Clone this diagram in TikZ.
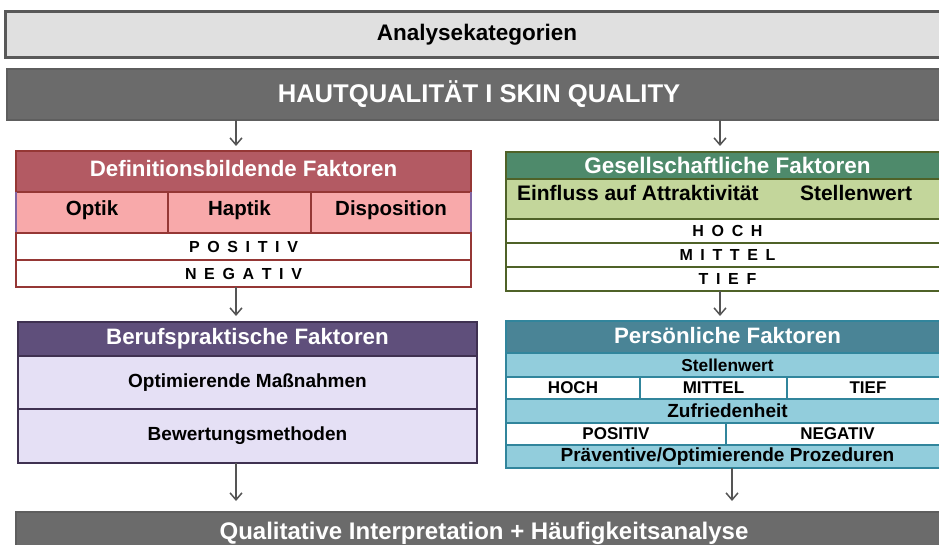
\documentclass[tikz,border=0pt]{standalone}
\usepackage{fontspec}
\setmainfont{Liberation Sans}
\usetikzlibrary{arrows.meta}
\definecolor{anaF}{HTML}{E0E0E0}
\definecolor{anaB}{HTML}{595959}
\definecolor{hqF}{HTML}{6B6B6B}
\definecolor{hqB}{HTML}{5E5E5E}
\definecolor{defH}{HTML}{B35A63}
\definecolor{defS}{HTML}{F8A9AA}
\definecolor{defB}{HTML}{953735}
\definecolor{defP}{HTML}{8064A2}
\definecolor{gesH}{HTML}{4E8A6B}
\definecolor{gesS}{HTML}{C3D69B}
\definecolor{gesB}{HTML}{4F6228}
\definecolor{berH}{HTML}{5F4F7B}
\definecolor{berS}{HTML}{E5E0F5}
\definecolor{berB}{HTML}{3F3151}
\definecolor{perH}{HTML}{4A8496}
\definecolor{perS}{HTML}{92CDDC}
\definecolor{perB}{HTML}{31859C}
\definecolor{arrC}{HTML}{555555}
\newcommand{\fs}[1]{\fontsize{#1}{#1}\selectfont}
\tikzset{
  cell/.style={draw, line width=1.6pt, anchor=north west, inner sep=0pt, outer sep=0pt,
    font=\bfseries\fs{17}, align=center},
  lbl/.style={inner sep=0pt, outer sep=0pt, font=\bfseries\fs{21}},
  arr/.style={draw=arrC, line width=1.5pt, -{Straight Barb[length=7pt,width=12pt,line width=1.5pt]}},
  spaced/.style={font=\bfseries\fs{16}\addfontfeature{LetterSpace=20}},
}
\begin{document}
\begin{tikzpicture}[x=1pt,y=-1pt]
\useasboundingbox (0,0) rectangle (939,545);
\clip (0,0) rectangle (939,545);
% top boxes
\node[cell, fill=anaF, draw=anaB, line width=3pt, minimum width=944pt, minimum height=46pt, font=\bfseries\fs{22.5}] (ana) at (5,12) {Analysekategorien};
\node[cell, fill=hqF, draw=hqB, line width=1.5pt, minimum width=944pt, minimum height=51pt, text=white, font=\bfseries\fs{25.6}] (hq) at (7,69) {\raisebox{3pt}{HAUTQUALITÄT I SKIN QUALITY}};
% Definitionsbildende
\node[cell, fill=defH, draw=defB, text=white, minimum width=455pt, minimum height=41pt, font=\bfseries\fs{22.3}] (defh) at (16,151) {\raisebox{6pt}{Definitionsbildende Faktoren}};
\node[cell, fill=defS, draw=defB, minimum width=152pt, minimum height=41pt, font=\bfseries\fs{20.5}] (opt) at (16,192) {\raisebox{8pt}{Optik}};
\node[cell, fill=defS, draw=defB, minimum width=143pt, minimum height=41pt, font=\bfseries\fs{20.5}] (hap) at (168,192) {\raisebox{8pt}{Haptik}};
\node[cell, fill=defS, draw=defB, minimum width=160pt, minimum height=41pt, font=\bfseries\fs{20.5}] (dis) at (311,192) {\raisebox{8pt}{Disposition}};
\draw[defP, line width=1.6pt] (opt.north west) -- (opt.south west);
\draw[defP, line width=1.6pt] (dis.north east) -- (dis.south east);
\node[cell, fill=white, draw=defB, minimum width=455pt, minimum height=27pt, spaced] (dpos) at (16,233) {P O S I T I V};
\node[cell, fill=white, draw=defB, minimum width=455pt, minimum height=27pt, spaced] (dneg) at (16,260) {N E G A T I V};
% Gesellschaftliche
\node[cell, fill=gesH, draw=gesB, text=white, minimum width=443pt, minimum height=27pt, font=\bfseries\fs{22.5}] (gesh) at (506,152) {Gesellschaftliche Faktoren};
\node[cell, fill=gesS, draw=gesB, minimum width=443pt, minimum height=40pt] (gess) at (506,179) {};
\node[lbl, anchor=west] (einf) at (517,193) {Einfluss auf Attraktivität};
\node[lbl, anchor=west] (stw) at (800,193) {Stellenwert};
\node[cell, fill=white, draw=gesB, minimum width=443pt, minimum height=24pt, spaced] (ghoch) at (506,219) {H O C H};
\node[cell, fill=white, draw=gesB, minimum width=443pt, minimum height=24pt, spaced] (gmit) at (506,243) {M I T T E L};
\node[cell, fill=white, draw=gesB, minimum width=443pt, minimum height=24pt, spaced] (gtief) at (506,267) {T I E F};
% Berufspraktische
\node[cell, fill=berH, draw=berB, text=white, minimum width=459pt, minimum height=34pt, font=\bfseries\fs{22.3}] (berh) at (18,322) {\raisebox{2pt}{Berufspraktische Faktoren}};
\node[cell, fill=berS, draw=berB, minimum width=459pt, minimum height=53pt, font=\bfseries\fs{19}] (bopt) at (18,356) {\raisebox{4pt}{Optimierende Maßnahmen}};
\node[cell, fill=berS, draw=berB, minimum width=459pt, minimum height=54pt, font=\bfseries\fs{19}] (bbew) at (18,409) {\raisebox{4pt}{Bewertungsmethoden}};
% Persoenliche
\node[cell, fill=perH, draw=perB, text=white, minimum width=443pt, minimum height=32pt, font=\bfseries\fs{22.3}] (perh) at (506,321) {\raisebox{3pt}{Persönliche Faktoren}};
\node[cell, fill=perS, draw=perB, minimum width=443pt, minimum height=24pt, font=\bfseries\fs{17.3}] (pstw) at (506,353) {Stellenwert};
\node[cell, fill=white, draw=perB, minimum width=134pt, minimum height=22pt, font=\bfseries\fs{17}] (phoch) at (506,377) {HOCH};
\node[cell, fill=white, draw=perB, minimum width=147pt, minimum height=22pt, font=\bfseries\fs{17}] (pmit) at (640,377) {MITTEL};
\node[cell, fill=white, draw=perB, minimum width=162pt, minimum height=22pt, font=\bfseries\fs{17}] (ptief) at (787,377) {TIEF};
\node[cell, fill=perS, draw=perB, minimum width=443pt, minimum height=24pt, font=\bfseries\fs{19}] (pzuf) at (506,399) {Zufriedenheit};
\node[cell, fill=white, draw=perB, minimum width=220pt, minimum height=22pt, font=\bfseries\fs{17}] (ppos) at (506,423) {POSITIV};
\node[cell, fill=white, draw=perB, minimum width=223pt, minimum height=22pt, font=\bfseries\fs{17}] (pneg) at (726,423) {NEGATIV};
\node[cell, fill=perS, draw=perB, minimum width=443pt, minimum height=23pt, font=\bfseries\fs{19}] (ppra) at (506,445) {Präventive/Optimierende Prozeduren};
% bottom
\node[cell, fill=hqF, draw=hqB, line width=1.5pt, minimum width=936pt, minimum height=45pt, text=white, font=\bfseries\fs{24}] (qual) at (16,512) {\raisebox{7pt}{Qualitative Interpretation + Häufigkeitsanalyse}};
% arrows
\coordinate (a1) at (236,146);
\coordinate (a2) at (720,146);
\draw[arr] (hq.south -| a1) -- (a1);
\draw[arr] (hq.south -| a2) -- (a2);
\coordinate (a3) at (236,316);
\coordinate (a4) at (720,316);
\draw[arr] (dneg.south -| a3) -- (a3);
\draw[arr] (gtief.south -| a4) -- (a4);
\coordinate (a5) at (236,501);
\coordinate (a6) at (732,501);
\draw[arr] (bbew.south -| a5) -- (a5);
\draw[arr] (ppra.south -| a6) -- (a6);
\end{tikzpicture}
\end{document}
